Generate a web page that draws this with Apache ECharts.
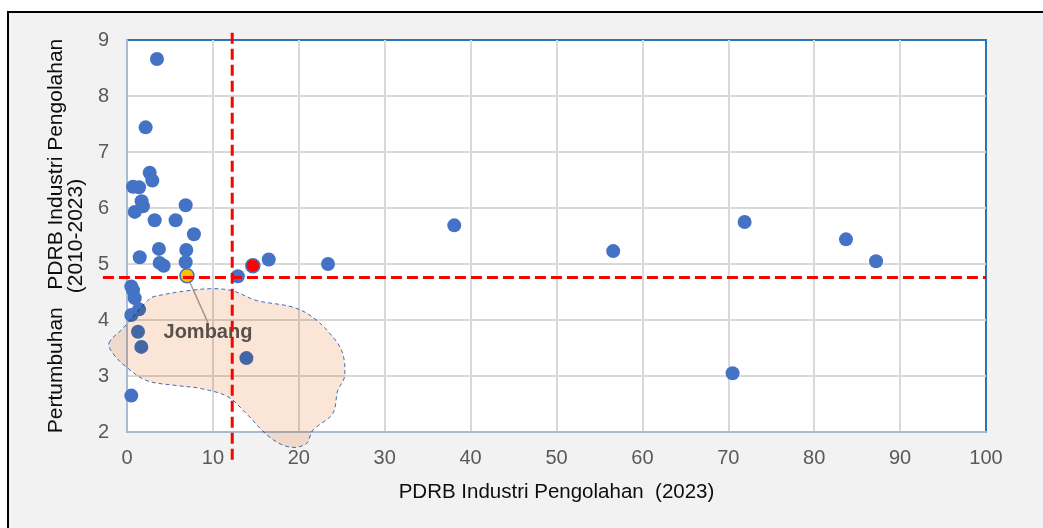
<!DOCTYPE html>
<html>
<head>
<meta charset="utf-8">
<script src="https://cdn.jsdelivr.net/npm/echarts@6/dist/echarts.min.js"></script>
<style>
  html, body { margin: 0; padding: 0; background: #fff; }
  #chart { width: 1043px; height: 528px; }
</style>
</head>
<body>
<div id="chart"></div>
<script>
// PDRB industri pengolahan 2023 (x) vs pertumbuhan 2010-2023 (y)
const pdrb2023 = [3.49, 2.17, 2.64, 2.95, 0.70, 1.40, 1.70, 1.85, 0.90, 6.83,
  3.22, 5.66, 7.79, 1.48, 3.72, 6.90, 3.80, 4.27, 6.83, 6.98,
  12.9, 14.65, 16.5, 23.4, 38.1, 56.6, 71.9, 83.7, 87.2, 70.5,
  0.50, 0.70, 0.90, 1.40, 0.50, 1.28, 1.67, 13.9, 0.50]
const growth = [8.66, 7.44, 6.63, 6.49, 6.38, 6.37, 6.12, 6.03, 5.93, 6.05,
  5.78, 5.78, 5.53, 5.12, 5.27, 5.25, 5.02, 4.97, 5.03, 4.79,
  4.78, 4.97, 5.08, 5.00, 5.69, 5.23, 5.75, 5.44, 5.05, 3.05,
  4.60, 4.53, 4.39, 4.19, 4.09, 3.79, 3.52, 3.32, 2.65]
const jombangIndex = 19
const redIndex = 21

// garis rata-rata (putus-putus merah)
const avgPdrb = 12.25
const avgGrowth = 4.76
const hLineFrom = -2.8
const vLineTop = 9.13
const vLineBottom = 1.5

// area yang dilingkari (koordinat data)
const blobX = [-2.09, -0.47, 2.64, 3.80, 6.91, 10.0, 12.33, 15.05, 19.3, 21.63, 23.95, 25.12, 25.31,
  24.53, 23.95, 21.63, 20.86, 18.92, 16.59, 13.88, 11.74, 8.45, 5.74, 2.26, -0.07, -1.63]
const blobY = [3.59, 3.85, 4.38, 4.44, 4.52, 4.56, 4.52, 4.35, 4.23, 4.05, 3.70, 3.40, 2.98,
  2.74, 2.33, 2.03, 1.79, 1.73, 1.91, 2.33, 2.63, 2.78, 2.83, 2.92, 3.16, 3.40]

const fontFamily = '"Liberation Sans", Arial, sans-serif'

const points = pdrb2023.map((x, i) => {
  const item = { value: [x, growth[i]] }
  if (i === jombangIndex) {
    item.itemStyle = { color: '#FFC000', borderColor: '#4472C4', borderWidth: 1.5 }
    item.label = {
      show: true,
      formatter: 'Jombang',
      position: 'inside',
      fontSize: 20,
      fontWeight: 'bold',
      fontFamily: fontFamily,
      color: '#595959'
    }
  }
  if (i === redIndex) {
    item.itemStyle = { color: '#FF0000', borderColor: '#4472C4', borderWidth: 1.5 }
  }
  return item
})

const chart = echarts.init(document.getElementById('chart'))

const option = {
  animation: false,
  graphic: [{
    type: 'rect',
    left: 7,
    top: 11,
    z: -10,
    shape: { width: 1040, height: 520 },
    style: { fill: '#F2F2F2', stroke: '#000', lineWidth: 2 }
  }],
  grid: {
    left: 127,
    right: 57,
    top: 40,
    bottom: 96,
    show: true,
    backgroundColor: '#fff',
    borderColor: '#2E75B6',
    borderWidth: 2
  },
  xAxis: {
    type: 'value',
    min: 0,
    max: 100,
    interval: 10,
    name: 'PDRB Industri Pengolahan  (2023)',
    nameLocation: 'middle',
    nameGap: 50,
    nameTextStyle: { fontSize: 20.5, color: '#0D0D0D', fontFamily: fontFamily },
    axisLine: { show: true, lineStyle: { color: '#A9BBD2', width: 2 } },
    axisTick: { show: false },
    axisLabel: { fontSize: 20, color: '#595959', margin: 16, fontFamily: fontFamily },
    splitLine: { showMaxLine: false, lineStyle: { color: '#D9D9D9', width: 2 } }
  },
  yAxis: {
    type: 'value',
    min: 2,
    max: 9,
    interval: 1,
    name: 'Pertumbuhan   PDRB Industri Pengolahan\n(2010-2023)',
    nameLocation: 'middle',
    nameGap: 41,
    nameTextStyle: { fontSize: 21, lineHeight: 20, color: '#0D0D0D', fontFamily: fontFamily },
    axisLine: { show: true, lineStyle: { color: '#A9BBD2', width: 2 } },
    axisTick: { show: false },
    axisLabel: { fontSize: 20, color: '#595959', margin: 18, fontFamily: fontFamily },
    splitLine: { showMaxLine: false, lineStyle: { color: '#D9D9D9', width: 2 } }
  },
  series: [
    {
      type: 'scatter',
      z: 2,
      symbolSize: 14,
      itemStyle: { color: '#4472C4', opacity: 1 },
      labelLayout: function(params) {
        if (params.dataIndex === jombangIndex) {
          return { dx: 21, dy: 57 }
        }
        return {}
      },
      labelLine: { show: true, lineStyle: { color: '#A6A6A6', width: 1.5 } },
      data: points
    },
    {
      // area lingkaran bebas, warna dicampur (multiply)
      type: 'custom',
      z: 3,
      silent: true,
      blendMode: 'multiply',
      data: [0],
      renderItem: function(params, api) {
        return {
          type: 'polygon',
          shape: {
            points: blobX.map((x, i) => api.coord([x, blobY[i]])),
            smooth: 0.35
          },
          style: {
            fill: '#FBE5D6',
            stroke: '#4472C4',
            lineWidth: 1,
            lineDash: [4, 3]
          }
        }
      }
    },
    {
      type: 'custom',
      z: 4,
      silent: true,
      data: [0],
      renderItem: function(params, api) {
        const h1 = api.coord([hLineFrom, avgGrowth])
        const h2 = api.coord([100, avgGrowth])
        const v1 = api.coord([avgPdrb, vLineTop])
        const v2 = api.coord([avgPdrb, vLineBottom])
        const style = { stroke: '#FF0000', lineWidth: 3, lineDash: [11, 5] }
        return {
          type: 'group',
          children: [
            { type: 'line', shape: { x1: h1[0], y1: h1[1], x2: h2[0], y2: h2[1] }, style: style },
            { type: 'line', shape: { x1: v1[0], y1: v1[1], x2: v2[0], y2: v2[1] }, style: style }
          ]
        }
      }
    }
  ]
}

chart.setOption(option)
</script>
</body>
</html>
